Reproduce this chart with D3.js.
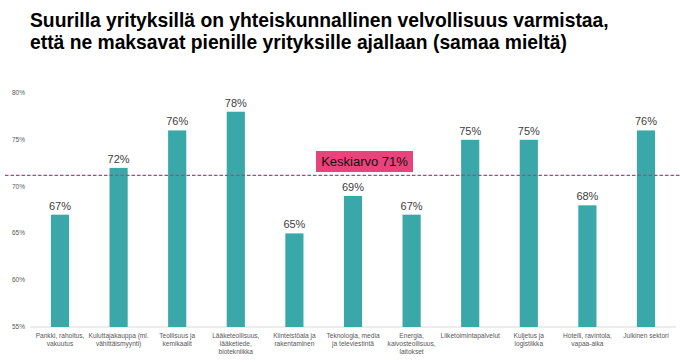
<!DOCTYPE html>
<html>
<head>
<meta charset="utf-8">
<script src="https://cdn.jsdelivr.net/npm/d3@7"></script>
<style>
  body { margin: 0; background: #fff; }
  svg { display: block; font-family: "Liberation Sans", Arial, sans-serif; }
</style>
</head>
<body>
<div class="container"></div>
<script>
const categories = [
    ['Pankki, rahoitus,', 'vakuutus'],
    ['Kuluttajakauppa (ml.', 'vähittäismyynti)'],
    ['Teollisuus ja', 'kemikaalit'],
    ['Lääketeollisuus,', 'lääketiede,', 'biotekniikka'],
    ['Kiinteistöala ja', 'rakentaminen'],
    ['Teknologia, media', 'ja televiestintä'],
    ['Energia,', 'kaivosteollisuus,', 'laitokset'],
    ['Liiketoimintapalvelut'],
    ['Kuljetus ja', 'logistiikka'],
    ['Hotelli, ravintola,', 'vapaa-aika'],
    ['Julkinen sektori']
];
const values = [67, 72, 76, 78, 65, 69, 67, 75, 75, 68, 76];
const average = 71.2;
const averageLabel = 'Keskiarvo 71%';
const yTicks = [55, 60, 65, 70, 75, 80];
const titleLines = [
    'Suurilla yrityksillä on yhteiskunnallinen velvollisuus varmistaa,',
    'että ne maksavat pienille yrityksille ajallaan (samaa mieltä)'
];

const w = 680;
const h = 362;

const svg = d3.select('.container')
    .append('svg')
    .attr('width', w)
    .attr('height', h)
    .attr('viewBox', [0, 0, w, h]);

// title
svg.append('g')
    .selectAll('text')
    .data(titleLines)
    .join('text')
    .attr('x', 30)
    .attr('y', (d, i) => 27 + i * 22)
    .style('font-size', '19.3px')
    .style('font-weight', 'bold')
    .attr('fill', '#000')
    .text(d => d);

const x = d3.scaleBand()
    .domain(d3.range(categories.length))
    .range([30.7, 675.3])
    .paddingInner(0.69)
    .paddingOuter(0.345);

const y = d3.scaleLinear()
    .domain([55, 80])
    .range([327, 93]);

// y tick labels
svg.append('g')
    .selectAll('text')
    .data(yTicks)
    .join('text')
    .attr('x', 25)
    .attr('y', d => y(d) + 2)
    .attr('text-anchor', 'end')
    .style('font-size', '6.5px')
    .attr('fill', '#595959')
    .text(d => d + '%');

// baseline
svg.append('line')
    .attr('x1', 30)
    .attr('x2', 676)
    .attr('y1', y(55))
    .attr('y2', y(55))
    .attr('stroke', '#d9d9d9')
    .attr('stroke-width', 1);

// bars
svg.append('g')
    .selectAll('rect')
    .data(values)
    .join('rect')
    .attr('x', (d, i) => x(i))
    .attr('y', d => y(d))
    .attr('width', x.bandwidth())
    .attr('height', d => y(55) - y(d))
    .attr('fill', '#3aa8a8');

// value labels
svg.append('g')
    .selectAll('text')
    .data(values)
    .join('text')
    .attr('x', (d, i) => x(i) + x.bandwidth() / 2)
    .attr('y', d => y(d) - 5)
    .attr('text-anchor', 'middle')
    .style('font-size', '11px')
    .attr('fill', '#404040')
    .text(d => d + '%');

// category labels
const catG = svg.append('g')
    .selectAll('text')
    .data(categories)
    .join('text')
    .attr('x', (d, i) => x(i) + x.bandwidth() / 2)
    .attr('y', 338)
    .attr('text-anchor', 'middle')
    .style('font-size', '6.6px')
    .attr('fill', '#595959');
catG.selectAll('tspan')
    .data(d => d)
    .join('tspan')
    .attr('x', function () { return d3.select(this.parentNode).attr('x'); })
    .attr('dy', (d, i) => i === 0 ? 0 : 8)
    .text(d => d);

// average line
svg.append('line')
    .attr('x1', 5)
    .attr('x2', 680)
    .attr('y1', y(average))
    .attr('y2', y(average))
    .attr('stroke', '#a54a85')
    .attr('stroke-width', 1.3)
    .attr('stroke-dasharray', '3.5,2');

// average label
svg.append('rect')
    .attr('x', 316)
    .attr('y', 151)
    .attr('width', 97)
    .attr('height', 21)
    .attr('fill', '#e8437a');

svg.append('text')
    .attr('x', 364.5)
    .attr('y', 166)
    .attr('text-anchor', 'middle')
    .style('font-size', '13px')
    .attr('fill', '#111')
    .text(averageLabel);
</script>
</body>
</html>
